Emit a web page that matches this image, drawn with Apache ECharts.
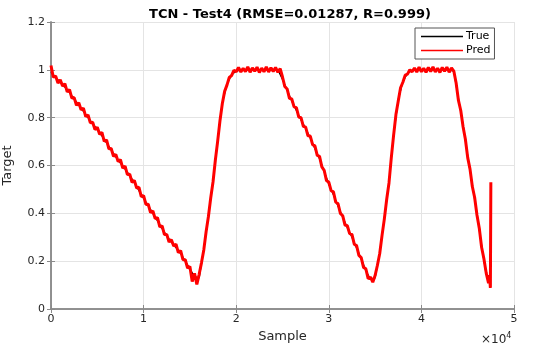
<!DOCTYPE html>
<html>
<head>
<meta charset="utf-8">
<script src="https://cdn.jsdelivr.net/npm/echarts@6/dist/echarts.min.js"></script>
<style>html,body{margin:0;padding:0;background:#fff}#c{width:550px;height:349px}</style>
</head>
<body>
<div id="c"></div>
<script>
// ---- data ----
// True target: one value every 500 samples (0 .. 47000), then tail samples
const trueStep = 500;
const trueVals = [
0.990,0.968,0.948,0.928,0.905,0.878,0.852,0.826,0.800,0.775,
0.750,0.724,0.695,0.665,0.636,0.610,0.585,0.558,0.528,0.495,
0.462,0.432,0.400,0.368,0.336,0.306,0.280,0.257,0.232,0.200,
0.168,0.135,0.130,0.250,0.390,0.535,0.705,0.862,0.940,0.980,
0.995,1.000,1.000,1.000,1.000,1.000,1.000,1.000,1.000,1.000,
0.960,0.915,0.870,0.830,0.790,0.755,0.715,0.670,0.628,0.575,
0.522,0.478,0.430,0.385,0.340,0.300,0.255,0.210,0.160,0.125,
0.130,0.235,0.380,0.530,0.730,0.875,0.952,0.985,0.998,1.000,
1.000,1.000,1.000,1.000,1.000,1.000,1.000,0.995,0.880,0.770,
0.640,0.520,0.400,0.265,0.145
];
const trueTailSamples = [47250, 47450];
const trueTailVals = [0.125, 0.120];
// Prediction: one value every 250 samples (0 .. 47000), then tail samples
const predStep = 250;
const predVals = [
1.018,0.969,0.974,0.945,0.958,0.932,0.942,0.908,0.917,0.882,
0.884,0.852,0.862,0.833,0.840,0.804,0.812,0.778,0.781,0.750,
0.760,0.731,0.738,0.701,0.707,0.670,0.671,0.638,0.646,0.617,
0.624,0.589,0.597,0.562,0.564,0.530,0.538,0.506,0.509,0.470,
0.474,0.437,0.438,0.403,0.410,0.378,0.382,0.343,0.348,0.311,
0.312,0.280,0.290,0.263,0.271,0.236,0.244,0.206,0.206,0.171,
0.178,0.115,0.149,0.103,0.145,
0.193,0.247,0.323,0.387,0.465,0.532,0.623,0.702,0.788,0.858,
0.910,0.936,0.968,0.976,0.998,0.992,
1.010,0.991,1.006,0.993,1.012,0.990,1.008,0.994,1.011,0.989,
1.007,0.992,1.012,0.991,1.009,0.993,1.010,0.990,1.005,
0.970,0.930,0.920,0.881,0.878,0.845,0.842,0.803,0.800,0.764,
0.760,0.724,0.723,0.687,0.682,0.642,0.638,0.594,0.580,0.537,
0.530,0.495,0.490,0.447,0.440,0.400,0.390,0.351,0.348,0.315,
0.312,0.271,0.265,0.224,0.215,0.174,0.168,0.127,0.133,0.112,
0.140,
0.183,0.232,0.308,0.377,0.458,0.527,0.633,0.727,0.813,0.870,
0.925,0.948,0.978,0.982,1.000,0.992,
1.008,0.991,1.011,0.992,1.006,0.990,1.010,0.993,1.012,0.991,
1.007,0.989,1.010,0.994,1.011,0.990,1.008,0.995,
0.945,0.872,0.830,0.762,0.710,0.633,0.585,0.512,0.466,0.393,
0.338,0.258,0.210,0.150
];
const predTailSamples = [47250, 47350, 47450, 47500];
const predTailVals = [0.108, 0.142, 0.088, 0.530];
const xTicks = ['0','1','2','3','4','5'];
const yTicks = ['0','0.2','0.4','0.6','0.8','1','1.2'];

function buildSeries(step, vals, tailX, tailY) {
  const out = vals.map((v, i) => [i * step, v]);
  tailX.forEach((s, i) => out.push([s, tailY[i]]));
  return out;
}

const font = '"DejaVu Sans", Verdana, sans-serif';
const txt = '#262626';
const axisCol = '#8a8a8a';
const chart = echarts.init(document.getElementById('c'), null, {renderer: 'canvas'});
chart.setOption({
  animation: false,
  backgroundColor: '#fff',
  title: {
    text: 'TCN - Test4 (RMSE=0.01287, R=0.999)',
    left: 285, top: 3, textAlign: 'center',
    textStyle: {fontFamily: font, fontSize: 13, fontWeight: 'bold', color: '#000'}
  },
  grid: {left: 51, right: 36, top: 22, bottom: 40, outerBoundsMode: 'none'},
  legend: {
    orient: 'vertical', left: 415, top: 28,
    padding: [3, 4, 3, 6], itemGap: 3,
    itemWidth: 42, itemHeight: 1.6,
    borderColor: '#555', borderWidth: 1, backgroundColor: '#fff', borderRadius: 0,
    textStyle: {fontFamily: font, fontSize: 11, color: '#000', padding: [0, 0, 0, -2]},
    data: [
      {name: 'True', icon: 'rect', itemStyle: {color: '#000'}},
      {name: 'Pred', icon: 'rect', itemStyle: {color: '#ff0000'}}
    ]
  },
  xAxis: [{
    type: 'value', min: 0, max: 50000, interval: 10000,
    name: 'Sample', nameLocation: 'middle', nameGap: 21,
    nameTextStyle: {fontFamily: font, fontSize: 13, color: txt},
    axisLine: {show: true, onZero: false, lineStyle: {color: axisCol, width: 1.5}},
    axisTick: {show: true, inside: true, length: 4, lineStyle: {color: axisCol}},
    axisLabel: {fontFamily: font, fontSize: 11, color: txt, margin: 5,
      formatter: v => xTicks[Math.round(v / 10000)]},
    splitLine: {show: true, lineStyle: {color: '#e4e4e4', width: 1}}
  }, {
    type: 'value', min: 0, max: 50000, interval: 10000, position: 'top',
    axisLine: {show: true, lineStyle: {color: axisCol, width: 1.5}},
    axisTick: {show: true, inside: true, length: 4, lineStyle: {color: axisCol}},
    axisLabel: {show: false}, splitLine: {show: false}
  }],
  yAxis: [{
    type: 'value', min: 0, max: 1.2, interval: 0.2,
    name: 'Target', nameLocation: 'middle', nameGap: 37,
    nameTextStyle: {fontFamily: font, fontSize: 13, color: txt},
    axisLine: {show: true, onZero: false, lineStyle: {color: axisCol, width: 1.5}},
    axisTick: {show: true, inside: true, length: 4, lineStyle: {color: axisCol}},
    axisLabel: {fontFamily: font, fontSize: 11, color: txt, margin: 6,
      formatter: v => yTicks[Math.round(v / 0.2)]},
    splitLine: {show: true, lineStyle: {color: '#e4e4e4', width: 1}}
  }, {
    type: 'value', min: 0, max: 1.2, interval: 0.2, position: 'right',
    axisLine: {show: true, lineStyle: {color: axisCol, width: 1.5}},
    axisTick: {show: true, inside: true, length: 4, lineStyle: {color: axisCol}},
    axisLabel: {show: false}, splitLine: {show: false}
  }],
  graphic: [{
    type: 'text', left: 481, top: 332,
    style: {
      text: '×10{s|4}', fontFamily: font, fontSize: 12, fill: txt,
      rich: {s: {fontSize: 8, verticalAlign: 'top', padding: [0, 0, 8, 0], fontFamily: font, fill: txt}}
    }
  }],
  series: [{
    name: 'True', type: 'line', showSymbol: false, symbol: 'none',
    data: buildSeries(trueStep, trueVals, trueTailSamples, trueTailVals),
    lineStyle: {color: '#000', width: 1.3}, itemStyle: {color: '#000'}, z: 2
  }, {
    name: 'Pred', type: 'line', showSymbol: false, symbol: 'none',
    data: buildSeries(predStep, predVals, predTailSamples, predTailVals),
    lineStyle: {color: '#ff0000', width: 3}, itemStyle: {color: '#ff0000'}, z: 3
  }]
});
</script>
</body>
</html>
